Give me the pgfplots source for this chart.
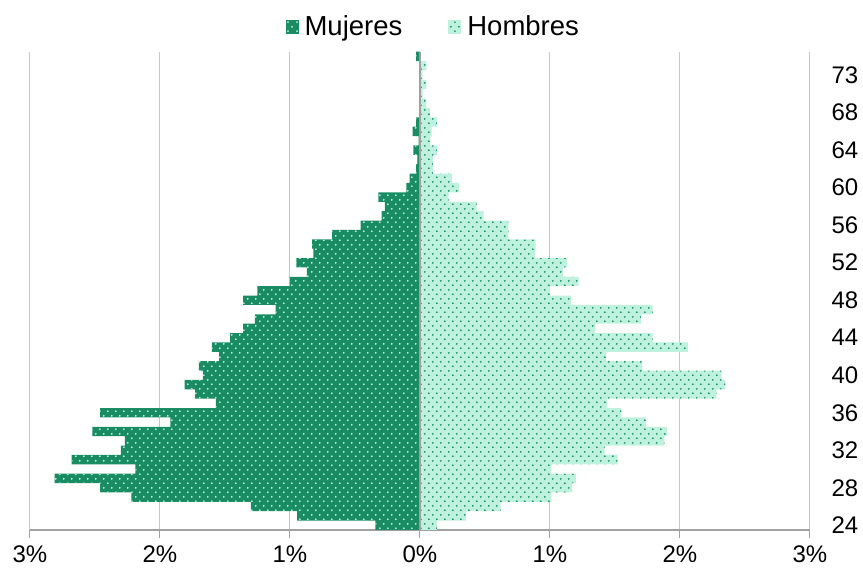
\documentclass[border=0pt]{standalone}
\usepackage{fontspec}
\setmainfont{Liberation Sans}
\usepackage{pgfplots}
\usepackage{pgfplotstable}
\pgfplotsset{compat=1.18}
\usetikzlibrary{patterns.meta}
\definecolor{dgreen}{HTML}{1A8C64}
\definecolor{lgreen}{HTML}{BEF2DE}
\definecolor{gridgray}{HTML}{C8C8C8}
\definecolor{axgray}{HTML}{A0A0A0}
\pgfdeclarepattern{
  name=mydots,
  type=uncolored,
  bottom left={\pgfpoint{0pt}{0pt}},
  top right={\pgfpoint{8.4pt}{9.2pt}},
  tile size={\pgfpoint{8.4pt}{9.2pt}},
  code={\pgfpathcircle{\pgfpoint{2pt}{2pt}}{1.05pt}\pgfpathcircle{\pgfpoint{6.2pt}{6.6pt}}{1.05pt}\pgfusepath{fill}}
}
\pgfplotstableread{
idx m h
0 -0.344 0.13
1 -0.945 0.354
2 -1.30 0.62
3 -2.22 1.01
4 -2.46 1.17
5 -2.81 1.20
6 -2.19 1.01
7 -2.68 1.52
8 -2.30 1.42
9 -2.27 1.88
10 -2.52 1.90
11 -1.92 1.74
12 -2.46 1.55
13 -1.57 1.44
14 -1.73 2.28
15 -1.81 2.35
16 -1.67 2.32
17 -1.70 1.71
18 -1.545 1.43
19 -1.60 2.06
20 -1.46 1.79
21 -1.36 1.35
22 -1.27 1.70
23 -1.11 1.79
24 -1.36 1.16
25 -1.25 1.00
26 -1.00 1.22
27 -0.87 1.10
28 -0.95 1.13
29 -0.82 0.885
30 -0.83 0.89
31 -0.675 0.68
32 -0.456 0.68
33 -0.295 0.49
34 -0.27 0.436
35 -0.32 0.22
36 -0.105 0.30
37 -0.08 0.245
38 -0.03 0.10
39 -0.02 0.10
40 -0.05 0.13
41 -0.01 0.08
42 -0.056 0.09
43 -0.03 0.13
44 0 0.077
45 0 0.05
46 0 0.02
47 0 0.05
48 0 0.02
49 -0.005 0.05
50 -0.03 0
}\pyr
\begin{document}
\begin{tikzpicture}
\path[use as bounding box] (-30pt,-45pt) rectangle (833pt,530pt);
\begin{axis}[
  scale only axis, width=780pt, height=478.3pt,
  xmin=-3, xmax=3, ymin=-0.5, ymax=50.5,
  xbar, bar width=1, bar shift=0pt,
  axis x line*=bottom, axis y line*=right,
  x axis line style={axgray, line width=1.2pt, -},
  y axis line style={draw=none},
  xtick={-3,-2,-1,0,1,2,3},
  xticklabels={3\%,2\%,1\%,0\%,1\%,2\%,3\%},
  ytick={0,4,8,12,16,20,24,28,32,36,40,44,48},
  yticklabels={24,28,32,36,40,44,48,52,56,60,64,68,73},
  tick align=outside, major tick length=8pt,
  xtick style={axgray, line width=1pt},
  ytick style={draw=none},
  xmajorgrids, grid style={gridgray, line width=1pt},
  ticklabel style={font=\fontsize{24}{28}\selectfont},
  xticklabel style={yshift=-4pt},
  yticklabel style={xshift=10pt},
  legend style={at={(0.517,1)}, anchor=south, yshift=10pt, draw=none, fill=none,
    legend columns=2, font=\fontsize{27.5}{31}\selectfont,
    /tikz/every odd column/.append style={column sep=4pt},
    /tikz/every even column/.append style={column sep=44pt}},
  legend image code/.code={\fill[#1] (0pt,-7pt) rectangle (13pt,7pt);},
]
\addplot[fill=dgreen, draw=none, postaction={pattern=mydots, pattern color=lgreen}] table[x=m, y=idx] {\pyr};
\addlegendentry{Mujeres}
\addplot[fill=lgreen, draw=none, postaction={pattern=mydots, pattern color=dgreen}] table[x=h, y=idx] {\pyr};
\addlegendentry{Hombres}
\draw[axgray, line width=1.5pt] (axis cs:0,-0.5) -- (axis cs:0,50.5);
\end{axis}
\end{tikzpicture}
\end{document}
